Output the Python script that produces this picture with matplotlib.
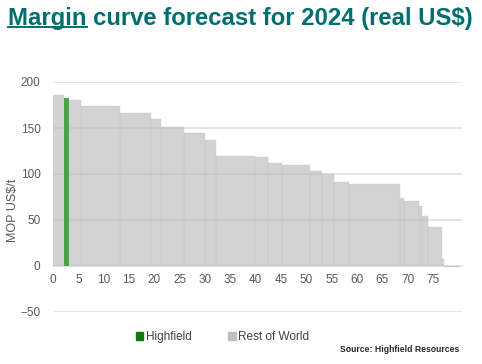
import matplotlib
matplotlib.use('Agg')
import matplotlib.pyplot as plt
from matplotlib.patches import Patch
from matplotlib.lines import Line2D
import numpy as np

plt.rcParams['font.family'] = ['Liberation Sans', 'DejaVu Sans']

# --- data (cumulative capacity position vs margin)
bar_edges = [0, 2.17, 3.2, 5.5, 13.2, 19.3, 21.4, 25.8, 29.9, 32.2, 39.9, 42.5,
             45.2, 50.7, 53.1, 55.4, 58.4, 68.4, 69.3, 72.2, 72.9, 73.9, 76.7,
             77.1, 80.1]
margins = [186, 183, 180, 174, 166, 160, 151, 144.5, 136.5, 119.5, 118, 112.5,
           110, 103.5, 100, 91, 89, 73.5, 70.5, 65.5, 54.5, 42.5, 8, -1.5]
producers = ['Rest of World', 'Highfield'] + ['Rest of World'] * 22
x_ticks = list(range(0, 80, 5))
y_ticks = [-50, 0, 50, 100, 150, 200]
# ---

teal = '#006e6e'
grey_txt = '#595959'

fig = plt.figure(figsize=(4.82, 3.64), dpi=100)
ax = fig.add_axes([53 / 482, 52 / 364, 409 / 482, 230 / 364])

edges = np.array(bar_edges)
widths = np.diff(edges)
for left, w, m, p in zip(edges[:-1], widths, margins, producers):
    if p == 'Highfield':
        ax.bar(left, m, width=w, align='edge', color='#46a346', zorder=3)
    else:
        ax.bar(left, m, width=w, align='edge', color='#bbbbbb', alpha=0.65,
               edgecolor='#c4c4c4', linewidth=0.3, zorder=3)

ax.set_xlim(0, 80.7)
ax.set_ylim(-50, 200)
ax.set_xticks(x_ticks)
ax.set_yticks(y_ticks)
ax.grid(axis='y', color='#e0e0e0', linewidth=1.2, zorder=1)
ax.set_axisbelow(True)
for s in ax.spines.values():
    s.set_visible(False)
ax.spines['bottom'].set_position(('data', 0))
ax.tick_params(axis='both', length=0, labelsize=8.5, labelcolor=grey_txt)
ax.tick_params(axis='y', pad=9)
ax.tick_params(axis='x', pad=6)
ax.set_ylabel('MOP US$/t', fontsize=9, color=grey_txt)
ax.yaxis.set_label_coords(-0.082, 0.44)

# title with underlined first word
title_x, title_y = 8 / 482, 1 - 18 / 364
fig.text(title_x, title_y, 'Margin curve forecast for 2024 (real US$)',
         fontsize=17.2, fontweight='bold', color=teal,
         va='center', ha='left')
meas = fig.text(title_x, title_y, 'Margin', fontsize=17.2, fontweight='bold',
                va='center', ha='left', alpha=0)
fig.canvas.draw()
bb = meas.get_window_extent().transformed(fig.transFigure.inverted())
uy = 1 - 26.5 / 364
fig.add_artist(Line2D([bb.x0, bb.x1], [uy, uy], color=teal, linewidth=1.4,
                      transform=fig.transFigure))

handles = [Patch(color='#127812', label='Highfield'),
           Patch(color='#bfbfbf', label='Rest of World')]
fig.legend(handles=handles, loc='center left', bbox_to_anchor=(125 / 482, 1 - 337 / 364),
           ncol=2, frameon=False, fontsize=8.5, handlelength=0.65, handleheight=0.65,
           handletextpad=0.2, columnspacing=3.1, labelcolor='#404040')

fig.text(459 / 482, 1 - 349 / 364, 'Source: Highfield Resources', fontsize=6.2,
         fontweight='bold', color='#262626', ha='right', va='center')

plt.savefig('out.png', dpi=100)
plt.close()
